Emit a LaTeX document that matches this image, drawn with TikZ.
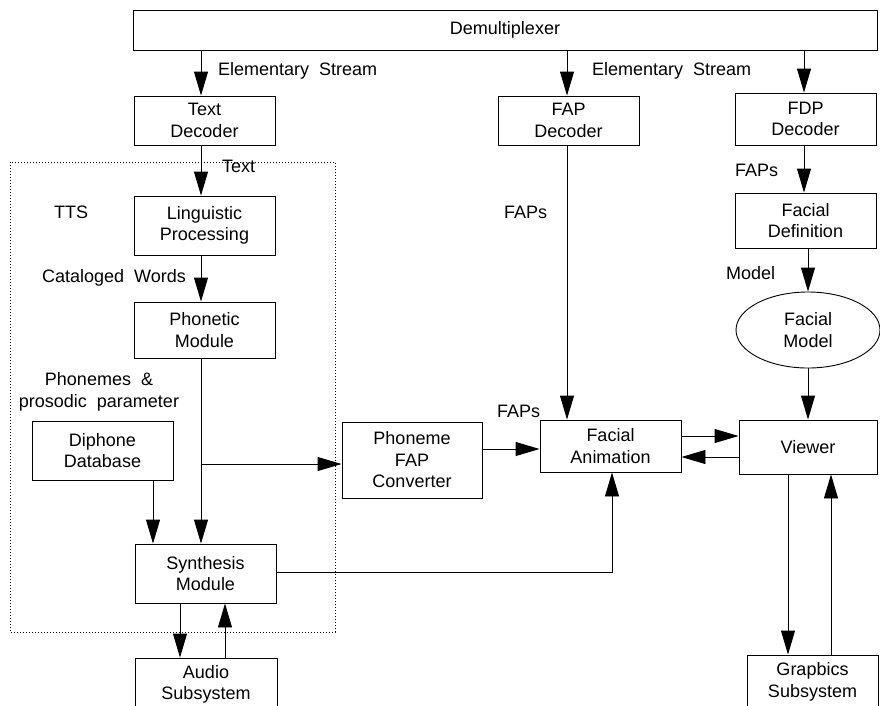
\documentclass[tikz,border=0pt]{standalone}
\usepackage{fontspec}
\setmainfont{Liberation Sans}[WordSpace=2]
\usetikzlibrary{arrows.meta,shapes.geometric,calc}

\tikzset{
  blk/.style={draw, line width=0.9pt, inner sep=0pt, align=center,
    font=\fontsize{18}{21.5}\selectfont},
  oval/.style={draw, ellipse, line width=0.9pt, inner sep=0pt, align=center,
    font=\fontsize{18}{21.5}\selectfont},
  lbl/.style={inner sep=0pt, align=center, font=\fontsize{18}{21.5}\selectfont},
  conn/.style={line width=0.9pt},
  arr/.style={conn, -{Triangle[length=24pt,width=14pt]}},
  ttsframe/.style={line width=0.9pt, dash pattern=on 0.9pt off 2.1pt},
}

\begin{document}
\begin{tikzpicture}[x=1pt, y=-1pt]
\useasboundingbox (0,0) rectangle (880,705);
\clip (0,0) rectangle (880,705);

% TTS group frame
\draw[ttsframe] (10,162) rectangle (335,632);

% blocks
\node[blk, minimum width=744pt, minimum height=40pt] (demux) at (505,30) {Demultiplexer};
\node[blk, minimum width=141pt, minimum height=49pt] (textdec) at (204.5,120.5) {Text\\Decoder};
\node[blk, minimum width=141pt, minimum height=59pt] (ling) at (204.5,225.5) {Linguistic\\Processing};
\node[blk, minimum width=141pt, minimum height=56pt] (phon) at (204.5,330) {Phonetic\\Module};
\node[blk, minimum width=141pt, minimum height=59pt] (diph) at (102.5,450.5) {Diphone\\Database};
\node[blk, minimum width=141pt, minimum height=59pt] (synth) at (205.5,573.5) {Synthesis\\Module};
\node[blk, minimum width=142pt, minimum height=62pt] (audio) at (206,689) {};
\node[lbl] at (206,684.5) {Audio\\Subsystem};
\node[blk, minimum width=140pt, minimum height=76pt] (conv) at (412,460) {Phoneme\\FAP\\Converter};
\node[blk, minimum width=141pt, minimum height=52pt] (fanim) at (610.5,446) {Facial\\Animation};
\node[blk, minimum width=141pt, minimum height=49pt] (fapdec) at (568.5,120.5) {FAP\\Decoder};
\node[blk, minimum width=141pt, minimum height=52pt] (fdpdec) at (805.5,119) {FDP\\Decoder};
\node[blk, minimum width=141pt, minimum height=55pt] (fdef) at (805.5,220.5) {Facial\\Definition};
\node[oval, minimum width=144pt, minimum height=76pt] (fmodel) at (808,330) {Facial\\Model};
\node[blk, minimum width=138pt, minimum height=54pt] (viewer) at (808,447) {Viewer};
\node[blk, minimum width=131pt, minimum height=62pt] (graph) at (812.5,686) {};
\node[lbl] at (812.5,682) {Grapbics\\Subsystem};

% labels
\node[lbl, anchor=west] (es1) at (218,71) {Elementary Stream};
\node[lbl, anchor=west] (es2) at (592,71) {Elementary Stream};
\node[lbl, anchor=west] (ltext) at (222,166) {Text};
\node[lbl, anchor=west] (ltts) at (54,212) {TTS};
\node[lbl, anchor=west] (lcat) at (42,278) {Cataloged Words};
\node[lbl] (lphon) at (99,392) {Phonemes \&\\prosodic parameter};
\node[lbl, anchor=west] (lfaps1) at (504,212) {FAPs};
\node[lbl, anchor=west] (lfaps2) at (735,170) {FAPs};
\node[lbl, anchor=west] (lmodel) at (726,273) {Model};
\node[lbl, anchor=west] (lfaps3) at (497,411) {FAPs};

% text-to-speech chain
\draw[arr] ([xshift=-3.5pt]textdec.north |- demux.south) -- ([xshift=-3.5pt]textdec.north);
\draw[arr] ([xshift=-3.5pt]textdec.south) -- ([xshift=-3.5pt]ling.north);
\draw[arr] ([xshift=-3.5pt]ling.south) -- ([xshift=-3.5pt]phon.north);
\draw[arr] ([xshift=-3.5pt]phon.south) -- ([xshift=-4.5pt]synth.north);
\coordinate (br) at ([xshift=-3.5pt]phon.south |- 0,464);
\draw[arr] (br) -- (br -| conv.west);
\draw[arr] ([xshift=50.5pt]diph.south) -- ([xshift=50.5pt]diph.south |- synth.north);
\draw[arr] ([xshift=-25.5pt]synth.south) -- ([xshift=-25.5pt]synth.south |- audio.north);
\draw[arr] ([xshift=19.5pt]synth.south |- audio.north) -- ([xshift=19.5pt]synth.south);
\coordinate (sy) at (synth.east |- 0,572);
\draw[arr] (sy) -- (sy -| 612,0) -- (612,0 |- fanim.south);

% facial animation chain
\draw[arr] (conv.east |- 0,449) -- (fanim.west |- 0,449);
\draw[arr] ([xshift=-1.5pt]fapdec.north |- demux.south) -- ([xshift=-1.5pt]fapdec.north);
\draw[arr] ([xshift=-1.5pt]fapdec.south) -- ([xshift=-1.5pt]fapdec.south |- fanim.north);
\draw[arr] ([xshift=-1.5pt]fdpdec.north |- demux.south) -- ([xshift=-1.5pt]fdpdec.north);
\draw[arr] ([xshift=-1.5pt]fdpdec.south) -- ([xshift=-1.5pt]fdef.north);
\draw[arr] ([xshift=2.5pt]fdef.south) -- (fmodel.north);
\draw[arr] (fmodel.south) -- (viewer.north);
\draw[arr] (fanim.east |- 0,436) -- (viewer.west |- 0,436);
\draw[arr] (viewer.west |- 0,457) -- (fanim.east |- 0,457);
\draw[arr] ([xshift=-20pt]viewer.south) -- ([xshift=-20pt]viewer.south |- graph.north);
\draw[arr] ([xshift=23pt]viewer.south |- graph.north) -- ([xshift=23pt]viewer.south);
\end{tikzpicture}
\end{document}
